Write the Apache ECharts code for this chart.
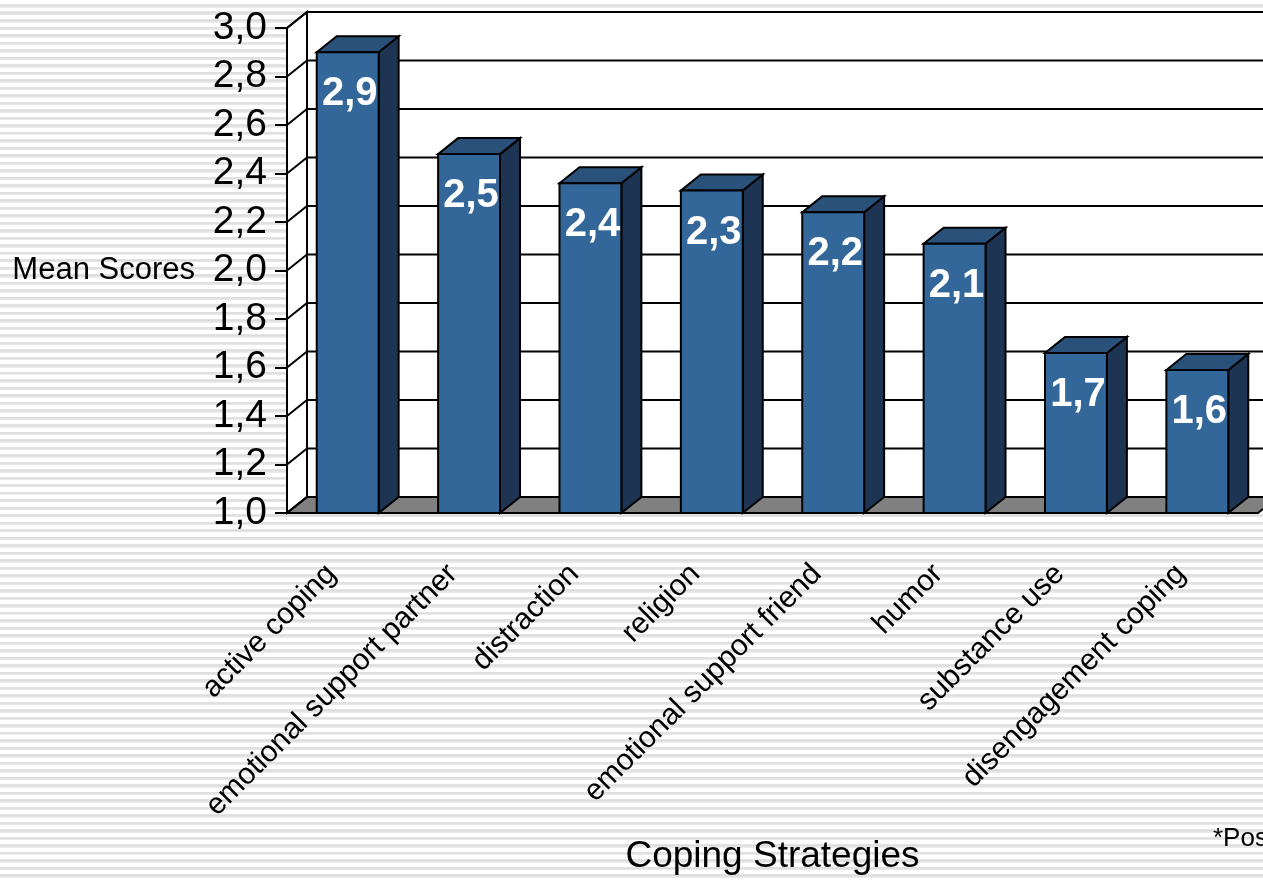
<!DOCTYPE html>
<html>
<head>
<meta charset="utf-8">
<script src="https://cdn.jsdelivr.net/npm/echarts@6/dist/echarts.min.js"></script>
<style>
  html, body { margin: 0; padding: 0; }
  body {
    background: repeating-linear-gradient(to bottom,
      #ffffff 0px, #ffffff 4px, #e6e6e6 4px, #dddddd 5.5px, #ececec 7.5px);
  }
  #chart { width: 1263px; height: 882px; }
</style>
</head>
<body>
<div id="chart"></div>
<script>
// values
const categories = ['active coping', 'emotional support partner', 'distraction', 'religion',
  'emotional support friend', 'humor', 'substance use', 'disengagement coping']
const meanScores = [2.90, 2.48, 2.36, 2.33, 2.24, 2.11, 1.66, 1.59]
const yTicks = [1.0, 1.2, 1.4, 1.6, 1.8, 2.0, 2.2, 2.4, 2.6, 2.8, 3.0]

// fake 3d depth (pixels)
const DX = 20
const DY = -16
const FONT = "'Liberation Sans', Arial, sans-serif"

const fmt = v => v.toFixed(1).replace('.', ',')

// left wall, back wall, floor and gridlines
function renderWalls(params, api) {
  const band = api.size([1, 0])[0]
  const x0 = api.coord([0, yTicks[0]])[0] - band / 2
  const x1 = api.coord([categories.length - 1, yTicks[0]])[0] + band / 2
  const yb = api.coord([0, yTicks[0]])[1]
  const yt = api.coord([0, yTicks[yTicks.length - 1]])[1]
  const line = { stroke: '#000', lineWidth: 2 }
  const children = [
    { type: 'polygon', shape: { points: [[x0, yb], [x0 + DX, yb + DY], [x0 + DX, yt + DY], [x0, yt]] },
      style: { fill: '#fff', ...line } },
    { type: 'rect', shape: { x: x0 + DX, y: yt + DY, width: x1 - x0, height: yb - yt },
      style: { fill: '#fff', ...line } },
    { type: 'polygon', shape: { points: [[x0, yb], [x1, yb], [x1 + DX, yb + DY], [x0 + DX, yb + DY]] },
      style: { fill: '#808080', ...line } }
  ]
  yTicks.forEach(v => {
    const y = api.coord([0, v])[1]
    children.push({ type: 'polyline', shape: { points: [[x0, y], [x0 + DX, y + DY], [x1 + DX, y + DY]] },
      style: { fill: null, ...line } })
  })
  return { type: 'group', children }
}

function renderBar(params, api) {
  const idx = api.value(0)
  const v = api.value(1)
  const top = api.coord([idx, v])
  const base = api.coord([idx, yTicks[0]])
  const half = api.size([1, 0])[0] * 0.255
  const l = top[0] - half
  const r = top[0] + half
  const yt = top[1]
  const yb = base[1]
  const line = { stroke: '#000', lineWidth: 2 }
  return {
    type: 'group',
    children: [
      { type: 'polygon', shape: { points: [[r, yb], [r + DX, yb + DY], [r + DX, yt + DY], [r, yt]] },
        style: { fill: '#1d3553', ...line } },
      { type: 'polygon', shape: { points: [[l, yt], [l + DX, yt + DY], [r + DX, yt + DY], [r, yt]] },
        style: { fill: '#2a5179', ...line } },
      { type: 'rect', shape: { x: l, y: yt, width: r - l, height: yb - yt },
        style: { fill: '#336699', ...line } },
      { type: 'text', x: top[0] + 2, y: yt + 42,
        style: { text: fmt(v), fill: '#fff', font: 'bold 40px ' + FONT, align: 'center', verticalAlign: 'middle' } }
    ]
  }
}

const chart = echarts.init(document.getElementById('chart'))
chart.setOption({
  animation: false,
  backgroundColor: 'transparent',
  grid: { left: 287, right: 5, top: 28, bottom: 369, outerBoundsMode: 'none', containLabel: false },
  xAxis: {
    type: 'category',
    data: categories,
    name: 'Coping Strategies',
    nameLocation: 'middle',
    nameGap: 325,
    nameTextStyle: { fontFamily: FONT, fontSize: 37, color: '#000' },
    axisLine: { lineStyle: { color: '#000', width: 2 } },
    axisTick: { length: 8, lineStyle: { color: '#000', width: 2 } },
    axisLabel: { rotate: 45, margin: 40, padding: [0, 23, 0, 0], fontFamily: FONT, fontSize: 30,
      color: '#000', interval: 0 }
  },
  yAxis: {
    type: 'value',
    min: 1,
    max: 3,
    interval: 0.2,
    name: 'Mean Scores',
    nameLocation: 'middle',
    nameRotate: 0,
    nameGap: 92,
    nameTextStyle: { fontFamily: FONT, fontSize: 31, color: '#000' },
    axisLine: { show: true, lineStyle: { color: '#000', width: 2 } },
    axisTick: { show: true, length: 12, lineStyle: { color: '#000', width: 2 } },
    axisLabel: { formatter: fmt, margin: 20, fontFamily: FONT, fontSize: 39, color: '#000' },
    splitLine: { show: false }
  },
  series: [
    { type: 'custom', renderItem: renderWalls, data: [[0, 1]], z: 1, silent: true },
    { type: 'custom', renderItem: renderBar, data: meanScores.map((v, i) => [i, v]),
      encode: { x: 0, y: 1 }, z: 2 }
  ],
  graphic: [
    { type: 'text', left: 1213, top: 826, style: { text: '*Pos', font: '26px ' + FONT, fill: '#000' } }
  ]
})
</script>
</body>
</html>
